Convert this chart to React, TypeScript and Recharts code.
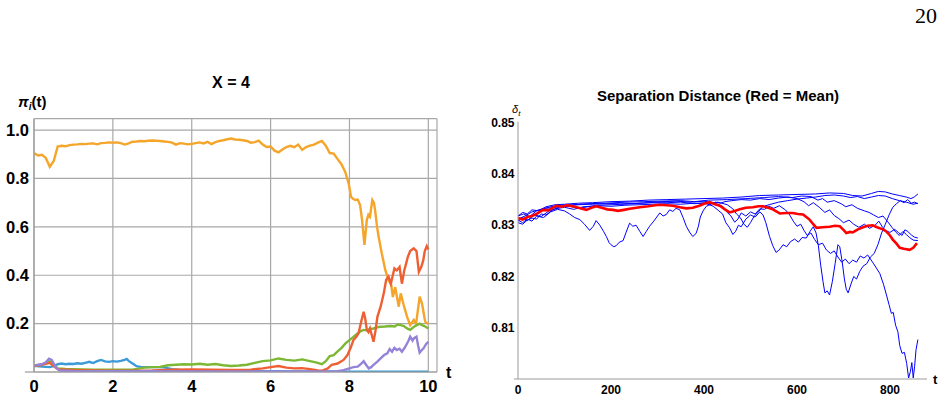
import { LineChart, Line, XAxis, YAxis, CartesianGrid, ReferenceLine } from 'recharts'

type Pt = [number, number]

const FONT = '"Liberation Sans", Arial, sans-serif'
const AXIS = '#9a9a9a'
const GRID = '#a8a8a8'

// ---- left panel: pi_i(t), X = 4 ----
const piTicksX = [0, 2, 4, 6, 8, 10]
const piTicksY = [0.2, 0.4, 0.6, 0.8, 1.0]
const piMinorX = [0, 0.5, 1, 1.5, 2, 2.5, 3, 3.5, 4, 4.5, 5, 5.5, 6, 6.5, 7, 7.5, 8, 8.5, 9, 9.5, 10]
const piMinorY = [0.05, 0.1, 0.15, 0.2, 0.25, 0.3, 0.35, 0.4, 0.45, 0.5, 0.55, 0.6, 0.65, 0.7, 0.75, 0.8, 0.85, 0.9, 0.95, 1.0]

const piBlue: Pt[] = [
  [0, 0.026], [0.2, 0.022], [0.4, 0.02], [0.5, 0.024], [0.6, 0.032], [0.7, 0.035], [0.8, 0.032], [0.9, 0.034],
  [1, 0.033], [1.1, 0.036], [1.2, 0.034], [1.3, 0.038], [1.4, 0.042], [1.5, 0.037], [1.6, 0.045], [1.7, 0.05],
  [1.8, 0.044], [1.9, 0.042], [2, 0.045], [2.1, 0.043], [2.2, 0.046], [2.3, 0.05], [2.35, 0.054], [2.4, 0.046],
  [2.5, 0.035], [2.6, 0.024], [2.7, 0.021], [2.9, 0.02], [3.1, 0.02], [3.3, 0.019], [3.5, 0.012], [3.7, 0.008],
  [4, 0.006], [4.5, 0.005], [5, 0.004], [5.5, 0.003], [6, 0.003], [6.5, 0.002], [7, 0.002], [7.5, 0.002],
  [8, 0.001], [9, 0.001], [10, 0.001],
]

const piOrange: Pt[] = [
  [0, 0.905], [0.1, 0.895], [0.2, 0.898], [0.3, 0.885], [0.4, 0.848], [0.5, 0.872], [0.6, 0.932], [0.7, 0.935],
  [0.8, 0.933], [0.9, 0.938], [1, 0.94], [1.1, 0.941], [1.2, 0.943], [1.3, 0.942], [1.4, 0.944], [1.5, 0.945],
  [1.6, 0.941], [1.7, 0.946], [1.8, 0.947], [1.9, 0.949], [2, 0.948], [2.1, 0.949], [2.2, 0.946], [2.3, 0.94],
  [2.4, 0.945], [2.5, 0.952], [2.6, 0.953], [2.7, 0.955], [2.8, 0.954], [2.9, 0.956], [3, 0.957], [3.1, 0.956],
  [3.2, 0.955], [3.3, 0.953], [3.4, 0.951], [3.5, 0.948], [3.6, 0.94], [3.7, 0.946], [3.8, 0.944], [3.9, 0.941],
  [4, 0.943], [4.1, 0.946], [4.2, 0.949], [4.3, 0.945], [4.4, 0.951], [4.5, 0.942], [4.6, 0.95], [4.7, 0.955],
  [4.8, 0.958], [4.9, 0.962], [5, 0.965], [5.1, 0.961], [5.2, 0.96], [5.3, 0.958], [5.4, 0.955], [5.5, 0.948],
  [5.6, 0.95], [5.7, 0.956], [5.8, 0.94], [5.9, 0.93], [6, 0.932], [6.1, 0.915], [6.2, 0.908], [6.3, 0.92],
  [6.4, 0.93], [6.5, 0.935], [6.6, 0.929], [6.7, 0.94], [6.8, 0.918], [6.9, 0.93], [7, 0.936], [7.1, 0.94],
  [7.2, 0.948], [7.3, 0.955], [7.4, 0.935], [7.5, 0.905], [7.6, 0.903], [7.7, 0.88], [7.8, 0.858], [7.89, 0.828],
  [7.98, 0.78], [8.04, 0.724], [8.1, 0.715], [8.15, 0.711], [8.21, 0.713], [8.27, 0.69], [8.32, 0.628], [8.38, 0.525],
  [8.44, 0.628], [8.48, 0.65], [8.52, 0.642], [8.58, 0.711], [8.62, 0.7], [8.65, 0.669], [8.7, 0.6], [8.74, 0.559],
  [8.82, 0.49], [8.91, 0.421], [8.99, 0.38], [9.06, 0.36], [9.1, 0.31], [9.16, 0.35], [9.25, 0.27], [9.3, 0.325],
  [9.37, 0.28], [9.46, 0.229], [9.54, 0.194], [9.63, 0.215], [9.69, 0.2], [9.78, 0.311], [9.84, 0.283], [9.92, 0.208],
  [10, 0.198],
]

const piGreen: Pt[] = [
  [0, 0.025], [0.2, 0.03], [0.4, 0.045], [0.5, 0.03], [0.6, 0.015], [0.8, 0.013], [1, 0.012], [1.5, 0.01],
  [2, 0.009], [2.5, 0.01], [2.8, 0.018], [3, 0.02], [3.2, 0.021], [3.4, 0.028], [3.6, 0.03], [3.8, 0.032],
  [4, 0.031], [4.2, 0.034], [4.4, 0.03], [4.6, 0.033], [4.8, 0.028], [5, 0.025], [5.2, 0.027], [5.4, 0.03],
  [5.6, 0.038], [5.8, 0.045], [6, 0.048], [6.2, 0.056], [6.4, 0.05], [6.6, 0.047], [6.8, 0.052], [7, 0.045],
  [7.15, 0.04], [7.3, 0.032], [7.4, 0.045], [7.5, 0.066], [7.6, 0.07], [7.7, 0.085], [7.8, 0.1], [7.9, 0.118],
  [8, 0.132], [8.1, 0.145], [8.21, 0.16], [8.3, 0.17], [8.36, 0.174], [8.45, 0.172], [8.52, 0.178], [8.61, 0.18],
  [8.7, 0.185], [8.79, 0.187], [8.9, 0.188], [9.04, 0.19], [9.15, 0.188], [9.22, 0.196], [9.3, 0.194], [9.38, 0.19],
  [9.46, 0.18], [9.54, 0.174], [9.62, 0.185], [9.71, 0.194], [9.78, 0.2], [9.84, 0.194], [9.92, 0.188], [10, 0.18],
]

const piRed: Pt[] = [
  [0, 0.025], [0.2, 0.03], [0.4, 0.038], [0.5, 0.025], [0.6, 0.012], [0.8, 0.01], [1, 0.008], [1.5, 0.006],
  [2, 0.005], [2.5, 0.005], [3, 0.006], [3.5, 0.01], [4, 0.011], [4.5, 0.01], [5, 0.008], [5.5, 0.01],
  [5.8, 0.015], [6, 0.02], [6.2, 0.025], [6.4, 0.018], [6.6, 0.015], [6.8, 0.016], [7, 0.012], [7.2, 0.006],
  [7.3, 0.005], [7.45, 0.015], [7.55, 0.03], [7.7, 0.035], [7.85, 0.05], [7.95, 0.07], [8.03, 0.1], [8.1, 0.132],
  [8.17, 0.145], [8.23, 0.16], [8.3, 0.21], [8.36, 0.249], [8.4, 0.22], [8.44, 0.174], [8.48, 0.165], [8.52, 0.18],
  [8.57, 0.15], [8.61, 0.125], [8.66, 0.17], [8.71, 0.229], [8.79, 0.27], [8.87, 0.325], [8.93, 0.38], [8.99, 0.394],
  [9.05, 0.365], [9.1, 0.4], [9.14, 0.428], [9.2, 0.42], [9.27, 0.434], [9.33, 0.365], [9.39, 0.42], [9.44, 0.45],
  [9.48, 0.476], [9.54, 0.5], [9.63, 0.511], [9.7, 0.5], [9.76, 0.414], [9.82, 0.434], [9.87, 0.46], [9.91, 0.5],
  [9.96, 0.52], [10, 0.507],
]

const piPurple: Pt[] = [
  [0, 0.025], [0.1, 0.03], [0.2, 0.032], [0.3, 0.04], [0.38, 0.055], [0.45, 0.05], [0.55, 0.02], [0.65, 0.006],
  [1, 0.004], [2, 0.003], [3, 0.003], [4, 0.002], [5, 0.002], [6, 0.002], [7, 0.002], [7.7, 0.003],
  [7.85, 0.008], [8, 0.015], [8.1, 0.02], [8.21, 0.022], [8.3, 0.035], [8.36, 0.045], [8.42, 0.03], [8.49, 0.015],
  [8.55, 0.02], [8.61, 0.029], [8.7, 0.042], [8.79, 0.056], [8.88, 0.07], [8.96, 0.077], [9.02, 0.095], [9.08, 0.084],
  [9.14, 0.1], [9.2, 0.091], [9.27, 0.096], [9.33, 0.084], [9.4, 0.1], [9.46, 0.118], [9.5, 0.13], [9.54, 0.146],
  [9.6, 0.13], [9.63, 0.139], [9.7, 0.146], [9.74, 0.11], [9.78, 0.08], [9.83, 0.09], [9.88, 0.098], [9.94, 0.115],
  [10, 0.125],
]

// ---- right panel: separation distance ----
const sepTicksX = [0, 200, 400, 600, 800]
const sepTicksY = [0.81, 0.82, 0.83, 0.84, 0.85]
const sepMinorX = [0, 50, 100, 150, 200, 250, 300, 350, 400, 450, 500, 550, 600, 650, 700, 750, 800, 850]
const sepMinorY = [
  0.802, 0.804, 0.806, 0.808, 0.81, 0.812, 0.814, 0.816, 0.818, 0.82, 0.822, 0.824, 0.826,
  0.828, 0.83, 0.832, 0.834, 0.836, 0.838, 0.84, 0.842, 0.844, 0.846, 0.848, 0.85,
]

const runTop: Pt[] = [
  [0, 0.8318], [10, 0.8325], [20, 0.8322], [30, 0.833], [45, 0.8328], [60, 0.8336], [80, 0.834], [100, 0.8341],
  [130, 0.8343], [160, 0.8344], [200, 0.8346], [240, 0.8347], [280, 0.8349], [320, 0.835], [360, 0.8351],
  [400, 0.8352], [440, 0.8353], [480, 0.8355], [520, 0.8358], [560, 0.8359], [600, 0.836], [640, 0.8361],
  [670, 0.8363], [700, 0.8362], [720, 0.8358], [740, 0.8357], [760, 0.8362], [775, 0.8366], [790, 0.8365],
  [805, 0.8361], [820, 0.8358], [835, 0.8355], [845, 0.8352], [852, 0.8355], [860, 0.8361],
]

const runSlide: Pt[] = [
  [0, 0.8312], [15, 0.8318], [30, 0.8326], [50, 0.8331], [70, 0.8336], [90, 0.8339], [120, 0.834], [150, 0.8342],
  [190, 0.8343], [230, 0.8345], [270, 0.8346], [310, 0.8347], [350, 0.8348], [380, 0.8346], [410, 0.8349],
  [450, 0.835], [490, 0.8352], [530, 0.8354], [560, 0.8356], [590, 0.8354], [610, 0.8357], [630, 0.8356],
  [645, 0.8349], [655, 0.8352], [665, 0.8345], [680, 0.8348], [695, 0.8342], [705, 0.8336], [718, 0.834],
  [730, 0.8333], [745, 0.8328], [755, 0.8325], [765, 0.832], [775, 0.8315], [785, 0.8318], [795, 0.8307],
  [805, 0.8295], [812, 0.8287], [820, 0.828], [828, 0.8288], [835, 0.8282], [842, 0.8276], [850, 0.8271], [860, 0.827],
]

const runValleys: Pt[] = [
  [0, 0.8305], [10, 0.8302], [20, 0.831], [30, 0.8314], [40, 0.8312], [50, 0.8322], [60, 0.832], [75, 0.833],
  [90, 0.8336], [110, 0.8337], [130, 0.8333], [150, 0.8336], [170, 0.8339], [200, 0.834], [230, 0.8341],
  [260, 0.8343], [290, 0.8344], [320, 0.8344], [350, 0.8345], [380, 0.8342], [400, 0.8344], [420, 0.8337],
  [432, 0.8328], [440, 0.8322], [447, 0.8305], [455, 0.8295], [462, 0.8282], [468, 0.8288], [474, 0.83],
  [480, 0.8297], [490, 0.8312], [500, 0.832], [510, 0.8316], [520, 0.8326], [527, 0.832], [533, 0.8305],
  [541, 0.8278], [548, 0.826], [555, 0.8247], [562, 0.8252], [570, 0.8262], [578, 0.8258], [586, 0.8268],
  [595, 0.8273], [603, 0.8267], [611, 0.8276], [620, 0.8275], [628, 0.8288], [635, 0.8297], [641, 0.8285],
  [646, 0.826], [651, 0.8222], [656, 0.819], [660, 0.8168], [665, 0.8172], [670, 0.8164], [676, 0.819],
  [682, 0.8225], [688, 0.8262], [692, 0.8258], [697, 0.823], [702, 0.8195], [706, 0.8175], [710, 0.8168],
  [716, 0.8185], [722, 0.82], [728, 0.8195], [735, 0.821], [742, 0.822], [750, 0.8225], [758, 0.8238],
  [766, 0.8245], [774, 0.8262], [782, 0.8285], [790, 0.8302], [798, 0.832], [806, 0.8335], [814, 0.8342],
  [822, 0.8348], [830, 0.8344], [838, 0.835], [846, 0.8343], [853, 0.8345], [860, 0.8342],
]

const runDips: Pt[] = [
  [0, 0.831], [10, 0.8305], [20, 0.8312], [30, 0.8308], [40, 0.8318], [55, 0.8315], [70, 0.8326], [85, 0.8331],
  [100, 0.8328], [111, 0.8322], [122, 0.8315], [133, 0.8311], [143, 0.8302], [154, 0.829], [162, 0.8298],
  [168, 0.8309], [176, 0.83], [184, 0.8288], [190, 0.8278], [196, 0.8266], [200, 0.8262], [206, 0.8258],
  [211, 0.826], [218, 0.8267], [226, 0.827], [232, 0.8285], [240, 0.8304], [247, 0.8298], [254, 0.83],
  [262, 0.8288], [269, 0.8278], [276, 0.8288], [283, 0.8298], [292, 0.8308], [305, 0.8324], [312, 0.8318],
  [319, 0.8321], [326, 0.833], [333, 0.8327], [340, 0.8333], [348, 0.833], [355, 0.8315], [362, 0.8298],
  [370, 0.8285], [376, 0.8278], [383, 0.8284], [388, 0.8298], [392, 0.8316], [398, 0.8328], [405, 0.8337],
  [415, 0.8341], [425, 0.8345], [435, 0.8343], [445, 0.8346], [460, 0.8348], [480, 0.835], [500, 0.8349],
  [520, 0.8352], [540, 0.835], [560, 0.8353], [580, 0.8355], [600, 0.8352], [615, 0.8346], [625, 0.8338],
  [635, 0.8344], [648, 0.8335], [660, 0.8325], [670, 0.833], [680, 0.8319], [690, 0.8313], [700, 0.8305],
  [712, 0.831], [722, 0.8302], [733, 0.8296], [745, 0.8302], [756, 0.8294], [768, 0.83], [776, 0.8308],
  [784, 0.8296], [792, 0.8289], [800, 0.8286], [810, 0.8292], [818, 0.8286], [826, 0.828], [832, 0.8291],
  [838, 0.8288], [846, 0.8281], [852, 0.8277], [860, 0.8275],
]

const runCrash: Pt[] = [
  [0, 0.8318], [12, 0.8322], [25, 0.8317], [40, 0.8328], [55, 0.8333], [75, 0.8334], [100, 0.8338], [130, 0.834],
  [160, 0.8341], [190, 0.8342], [220, 0.8343], [250, 0.8342], [280, 0.8344], [310, 0.8346], [340, 0.8347],
  [370, 0.8345], [400, 0.8347], [420, 0.8344], [440, 0.8337], [450, 0.8325], [458, 0.8318], [466, 0.8306],
  [473, 0.8312], [480, 0.8324], [490, 0.8318], [500, 0.8326], [510, 0.8322], [520, 0.8332], [530, 0.8331],
  [540, 0.8337], [550, 0.8333], [562, 0.8338], [575, 0.833], [583, 0.8322], [592, 0.8308], [600, 0.8298],
  [608, 0.8302], [615, 0.829], [622, 0.828], [630, 0.8285], [638, 0.8272], [646, 0.8262], [655, 0.8265],
  [663, 0.8252], [672, 0.8245], [680, 0.825], [688, 0.8238], [696, 0.8228], [704, 0.8234], [712, 0.8225],
  [720, 0.8232], [728, 0.8228], [736, 0.824], [744, 0.8236], [752, 0.8242], [764, 0.8226], [778, 0.8206],
  [786, 0.8185], [793, 0.8162], [798, 0.8145], [803, 0.8128], [807, 0.813], [812, 0.8105], [817, 0.8092],
  [821, 0.8065], [826, 0.805], [831, 0.8052], [836, 0.803], [840, 0.8002], [844, 0.8015], [847, 0.8032],
  [850, 0.8002], [853, 0.8025], [856, 0.8057], [860, 0.8077],
]

const runHigh: Pt[] = [
  [0, 0.8308], [10, 0.8315], [20, 0.8309], [35, 0.832], [50, 0.8317], [65, 0.8327], [80, 0.8332], [100, 0.8335],
  [120, 0.8331], [140, 0.8336], [170, 0.8338], [200, 0.8337], [230, 0.8339], [260, 0.834], [290, 0.8341],
  [320, 0.8342], [350, 0.8341], [380, 0.8343], [410, 0.8342], [430, 0.8345], [450, 0.834], [462, 0.8332],
  [470, 0.8322], [478, 0.8315], [486, 0.8302], [493, 0.8296], [500, 0.8305], [508, 0.8318], [516, 0.8325],
  [526, 0.8336], [540, 0.834], [560, 0.8345], [580, 0.8348], [600, 0.8351], [620, 0.8353], [640, 0.8355],
  [660, 0.8358], [680, 0.8359], [700, 0.8357], [715, 0.8354], [730, 0.8356], [745, 0.8352], [760, 0.8355],
  [775, 0.8358], [790, 0.8357], [805, 0.8352], [820, 0.8348], [835, 0.8345], [850, 0.8341], [860, 0.8343],
]

const sepMean: Pt[] = [
  [0, 0.8314], [10, 0.8311], [20, 0.8316], [30, 0.8318], [40, 0.8322], [54, 0.833], [65, 0.8329], [82, 0.8338],
  [95, 0.8336], [105, 0.8339], [118, 0.8337], [130, 0.8334], [147, 0.833], [158, 0.8334], [168, 0.8337],
  [180, 0.8334], [192, 0.8331], [204, 0.833], [215, 0.8328], [228, 0.833], [240, 0.8332], [262, 0.8335],
  [280, 0.8337], [295, 0.8339], [305, 0.834], [320, 0.8339], [333, 0.8338], [348, 0.8335], [362, 0.8333],
  [376, 0.8334], [390, 0.8338], [400, 0.8342], [412, 0.8345], [424, 0.8341], [434, 0.8338], [445, 0.8331],
  [455, 0.8325], [466, 0.8328], [477, 0.8331], [490, 0.8334], [505, 0.8335], [517, 0.8337], [527, 0.8337],
  [538, 0.8334], [548, 0.8331], [563, 0.8323], [577, 0.8324], [591, 0.8324], [602, 0.8322], [613, 0.8321],
  [620, 0.8316], [627, 0.8311], [635, 0.8302], [642, 0.8295], [655, 0.8296], [670, 0.8297], [682, 0.8299],
  [692, 0.8298], [700, 0.8291], [706, 0.8285], [714, 0.8287], [720, 0.8286], [731, 0.8292], [742, 0.8296],
  [752, 0.8299], [763, 0.83], [772, 0.8296], [778, 0.8294], [785, 0.8292], [792, 0.8288], [800, 0.828],
  [806, 0.8272], [814, 0.8264], [821, 0.8256], [830, 0.8254], [842, 0.8252], [850, 0.8256], [858, 0.8265],
]

const rows = (pts: Pt[]) => pts.map(([t, v]) => ({ t, v }))

const piSeries = [
  { name: 'pi1', pts: piBlue, color: '#3d9ad8' },
  { name: 'pi2', pts: piOrange, color: '#f4a52a' },
  { name: 'pi3', pts: piGreen, color: '#7cb834' },
  { name: 'pi4', pts: piRed, color: '#ee6034' },
  { name: 'pi5', pts: piPurple, color: '#9583d9' },
]

const sepRuns = [runTop, runSlide, runValleys, runDips, runCrash, runHigh]

const labelFont = { fill: '#000', fontWeight: 700, fontFamily: FONT }

function PiPanel() {
  const xDom: [number, number] = [0, 10.22]
  const yDom: [number, number] = [0, 1.047]
  return (
    <div style={{ position: 'absolute', left: 0, top: 0 }}>
      <LineChart width={470} height={401} margin={{ top: 118.7, right: 33, bottom: 9, left: 4 }}>
        <CartesianGrid stroke={GRID} strokeWidth={1.2} />
        <XAxis dataKey="t" type="number" domain={xDom} ticks={piTicksX} interval={0} allowDataOverflow
          height={20} axisLine={{ stroke: AXIS, strokeWidth: 1.2 }} tickLine={false} tickSize={0} tickMargin={8}
          tick={{ ...labelFont, fontSize: 16.5 }} />
        <XAxis xAxisId="minor" type="number" domain={xDom} ticks={piMinorX} interval={0} allowDataOverflow
          mirror axisLine={false} tick={false} tickLine={{ stroke: AXIS }} tickSize={4} />
        <YAxis type="number" domain={yDom} ticks={piTicksY} interval={0} allowDataOverflow width={30}
          axisLine={{ stroke: AXIS, strokeWidth: 1.2 }} tickLine={false} tickSize={0} tickMargin={5}
          tickFormatter={(v: number) => v.toFixed(1)} tick={{ ...labelFont, fontSize: 16.5 }} />
        <YAxis yAxisId="minor" type="number" domain={yDom} ticks={piMinorY} interval={0} allowDataOverflow
          mirror axisLine={false} tick={false} tickLine={{ stroke: AXIS }} tickSize={4} />
        <ReferenceLine segment={[{ x: -0.23, y: 0 }, { x: 0, y: 0 }]} stroke={AXIS} strokeWidth={1.2} ifOverflow="visible" />
        {piSeries.map((s) => (
          <Line key={s.name} data={rows(s.pts)} dataKey="v" type="linear" stroke={s.color} strokeWidth={2.4}
            dot={false} isAnimationActive={false} />
        ))}
      </LineChart>
    </div>
  )
}

function SepPanel() {
  const xDom: [number, number] = [0, 879.6]
  const yDom: [number, number] = [0.8, 0.8502]
  return (
    <div style={{ position: 'absolute', left: 470, top: 0 }}>
      <LineChart width={474} height={401} margin={{ top: 121.7, right: 17, bottom: 6, left: 8 }}>
        <XAxis dataKey="t" type="number" domain={xDom} ticks={sepTicksX} interval={0} allowDataOverflow
          height={16} axisLine={{ stroke: AXIS }} tickLine={false} tickSize={0} tickMargin={6.5}
          tick={{ ...labelFont, fontSize: 12 }} />
        <XAxis xAxisId="minor" type="number" domain={xDom} ticks={sepMinorX} interval={0} allowDataOverflow
          mirror axisLine={false} tick={false} tickLine={{ stroke: AXIS }} tickSize={3} />
        <YAxis type="number" domain={yDom} ticks={sepTicksY} interval={0} allowDataOverflow width={40}
          axisLine={{ stroke: AXIS }} tickLine={false} tickSize={0} tickMargin={3.5}
          tickFormatter={(v: number) => v.toFixed(2)} tick={{ ...labelFont, fontSize: 12 }} />
        <YAxis yAxisId="minor" type="number" domain={yDom} ticks={sepMinorY} interval={0} allowDataOverflow
          mirror axisLine={false} tick={false} tickLine={{ stroke: AXIS }} tickSize={3} />
        <ReferenceLine segment={[{ x: -8.6, y: 0.8 }, { x: 0, y: 0.8 }]} stroke={AXIS} ifOverflow="visible" />
        {sepRuns.map((r, i) => (
          <Line key={`run${i}`} data={rows(r)} dataKey="v" type="linear" stroke="#0000ff" strokeWidth={1}
            dot={false} isAnimationActive={false} />
        ))}
        <Line data={rows(sepMean)} dataKey="v" type="linear" stroke="#ff0000" strokeWidth={2.6}
          dot={false} isAnimationActive={false} />
      </LineChart>
    </div>
  )
}

export default function App() {
  return (
    <div style={{ position: 'absolute', left: 0, top: 0, width: 944, height: 401, background: '#fff', overflow: 'hidden' }}>
      <PiPanel />
      <SepPanel />
      <svg width={944} height={401} style={{ position: 'absolute', left: 0, top: 0, pointerEvents: 'none' }}>
        <text x={937} y={23} textAnchor="end" fontFamily='"Liberation Serif", "DejaVu Serif", serif' fontSize={22}>20</text>
        <text x={231} y={87.7} textAnchor="middle" {...labelFont} fontSize={16}>X = 4</text>
        <text x={18} y={107} {...labelFont} fontSize={15}>
          <tspan fontStyle="italic">π</tspan>
          <tspan fontStyle="italic" fontSize={10} dy={3}>i</tspan>
          <tspan dy={-3}>(t)</tspan>
        </text>
        <text x={446} y={378} {...labelFont} fontSize={16}>t</text>
        <text x={718} y={100.7} textAnchor="middle" {...labelFont} fontSize={15}>Separation Distance (Red = Mean)</text>
        <text x={512} y={113} fill="#000" fontFamily={FONT} fontSize={11}>
          <tspan fontStyle="italic">δ</tspan>
          <tspan fontStyle="italic" fontSize={8} dy={2.5}>t</tspan>
        </text>
        <text x={933} y={384} {...labelFont} fontSize={13}>t</text>
      </svg>
    </div>
  )
}
